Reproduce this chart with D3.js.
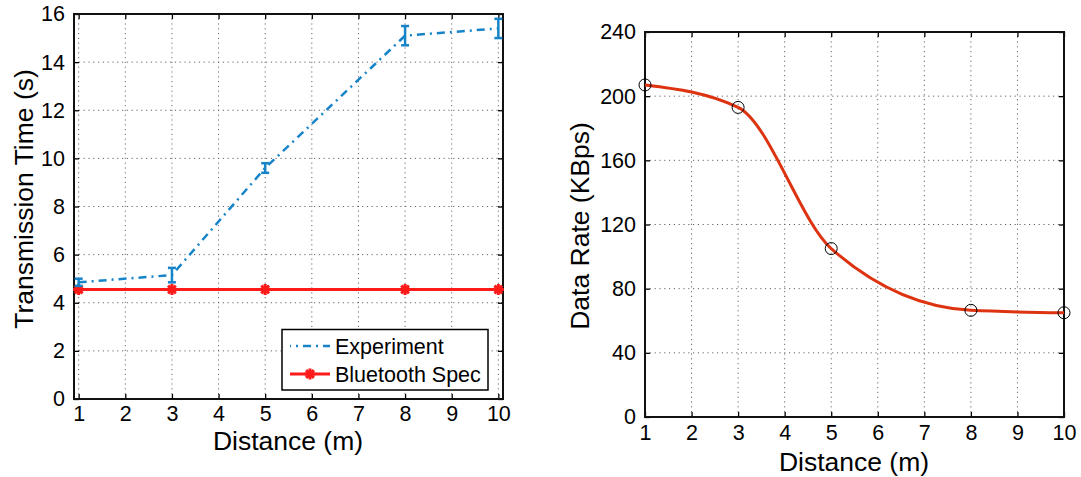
<!DOCTYPE html>
<html><head><meta charset="utf-8">
<script src="https://cdn.jsdelivr.net/npm/d3@7"></script>
<style>
body{margin:0;background:#fff}
text{font-family:"Liberation Sans",Arial,Helvetica,sans-serif;fill:#000}
</style></head>
<body><svg id="c" width="1081" height="477"></svg>
<script>
// ---- data ----
const distances = [1, 3, 5, 8, 10];
const experimentTime = [4.85, 5.15, 9.6, 15.1, 15.4];
const experimentErr = [0.15, 0.3, 0.2, 0.4, 0.4];
const bluetoothSpec = [4.55, 4.55, 4.55, 4.55, 4.55];
const dataRate = [207, 193, 105, 66.5, 65];
const xTicks = [1,2,3,4,5,6,7,8,9,10];
const yTicksLeft = [0,2,4,6,8,10,12,14,16];
const yTicksRight = [0,40,80,120,160,200,240];
const legendLabels = ["Experiment", "Bluetooth Spec"];

const svg = d3.select("#c");
const BLUE = "#1784c9", RED = "#ff1a1a", ORANGE = "#dd3311";

function frame(g, x, y, xt, yt, xTitle, yTitle, opts) {
  const [x0, x1] = x.range(), [y0, y1] = y.range();
  // grid
  g.append("g").selectAll("line").data(xt).join("line")
    .attr("x1", d => x(d)).attr("x2", d => x(d)).attr("y1", y0).attr("y2", y1)
    .attr("stroke", "#666").attr("stroke-width", 1).attr("stroke-dasharray", "1.2,3.6");
  g.append("g").selectAll("line").data(yt).join("line")
    .attr("y1", d => y(d)).attr("y2", d => y(d)).attr("x1", x0).attr("x2", x1)
    .attr("stroke", "#666").attr("stroke-width", 1).attr("stroke-dasharray", "1.2,3.6");
  // axes with inward ticks
  const bottom = g.append("g").attr("transform", `translate(0,${y0})`)
    .call(d3.axisBottom(x).tickValues(xt).tickSize(-5).tickPadding(opts.xpad).tickFormat(d3.format("d")));
  const top = g.append("g").attr("transform", `translate(0,${y1})`)
    .call(d3.axisTop(x).tickValues(xt).tickSize(-5).tickFormat(""));
  const left = g.append("g").attr("transform", `translate(${x0},0)`)
    .call(d3.axisLeft(y).tickValues(yt).tickSize(-5).tickPadding(9).tickFormat(d3.format("d")));
  const right = g.append("g").attr("transform", `translate(${x1},0)`)
    .call(d3.axisRight(y).tickValues(yt).tickSize(-5).tickFormat(""));
  [bottom, top, left, right].forEach(a => {
    a.select(".domain").remove();
    a.selectAll(".tick line").attr("stroke", "#000").attr("stroke-width", 1.3);
    a.selectAll("text").style("font-size", "21.5px").attr("fill", "#000");
  });
  bottom.selectAll("text").attr("dy", "0.71em");
  g.append("rect").attr("x", x0).attr("y", y1).attr("width", x1 - x0).attr("height", y0 - y1)
    .attr("fill", "none").attr("stroke", "#111").attr("stroke-width", 2);
  g.append("text").attr("x", opts.xtx).attr("y", opts.xty).attr("text-anchor", "middle")
    .style("font-size", "26.5px").text(xTitle);
  g.append("text").attr("transform", `translate(${opts.ytx},${opts.yty}) rotate(-90)`)
    .attr("text-anchor", "middle").style("font-size", "26.5px").text(yTitle);
}

// ---------- Left chart ----------
const xL = d3.scaleLinear().domain([0.9, 10.1]).range([74, 503]);
const yL = d3.scaleLinear().domain([0, 16]).range([399, 14]);
const gL = svg.append("g");
frame(gL, xL, yL, xTicks, yTicksLeft, "Distance (m)", "Transmission Time (s)",
  {xtx: 288, xty: 450, ytx: 33, yty: 199, xpad: 7});

const expData = distances.map((d, i) => ({x: d, y: experimentTime[i], e: experimentErr[i]}));
const btData = distances.map((d, i) => ({x: d, y: bluetoothSpec[i]}));

// bluetooth spec line
gL.append("path").datum(btData)
  .attr("d", d3.line().x(d => xL(d.x)).y(d => yL(d.y)))
  .attr("fill", "none").attr("stroke", RED).attr("stroke-width", 3);
function star(sel, cx, cy, r, color) {
  const g = sel.append("g").attr("transform", `translate(${cx},${cy})`);
  [0, 45, 90, 135].forEach(a => {
    const rad = a * Math.PI / 180;
    g.append("line").attr("x1", -r * Math.cos(rad)).attr("y1", -r * Math.sin(rad))
      .attr("x2", r * Math.cos(rad)).attr("y2", r * Math.sin(rad))
      .attr("stroke", color).attr("stroke-width", 3);
  });
}
btData.forEach(d => star(gL, xL(d.x), yL(d.y), 5.5, RED));

// experiment line
gL.append("path").datum(expData)
  .attr("d", d3.line().x(d => xL(d.x)).y(d => yL(d.y)))
  .attr("fill", "none").attr("stroke", BLUE).attr("stroke-width", 2.5)
  .attr("stroke-dasharray", "8,5,2,5");
// error bars
const eb = gL.append("g").attr("stroke", BLUE).attr("stroke-width", 2.5);
expData.forEach(d => {
  const cx = xL(d.x), t = yL(d.y + d.e), b = yL(d.y - d.e);
  eb.append("line").attr("x1", cx).attr("x2", cx).attr("y1", t).attr("y2", b);
  eb.append("line").attr("x1", cx - 4).attr("x2", cx + 4).attr("y1", t).attr("y2", t);
  eb.append("line").attr("x1", cx - 4).attr("x2", cx + 4).attr("y1", b).attr("y2", b);
});

// legend
const lg = gL.append("g");
lg.append("rect").attr("x", 282).attr("y", 329.5).attr("width", 206).attr("height", 60.5)
  .attr("fill", "#fff").attr("stroke", "#000").attr("stroke-width", 1.5);
lg.append("line").attr("x1", 290).attr("x2", 330).attr("y1", 346).attr("y2", 346)
  .attr("stroke", BLUE).attr("stroke-width", 2.5).attr("stroke-dasharray", "8,5,2,5").attr("stroke-dashoffset", 7);
lg.append("line").attr("x1", 290).attr("x2", 330).attr("y1", 374).attr("y2", 374)
  .attr("stroke", RED).attr("stroke-width", 3);
star(lg, 310, 374, 5.5, RED);
lg.selectAll("text.l").data(legendLabels).join("text").attr("class", "l")
  .attr("x", 335).attr("y", (d, i) => 354 + i * 28).style("font-size", "21.5px").text(d => d);

// ---------- Right chart ----------
const xR = d3.scaleLinear().domain([1, 10]).range([645, 1064]);
const yR = d3.scaleLinear().domain([0, 240]).range([417, 32]);
const gR = svg.append("g");
frame(gR, xR, yR, xTicks, yTicksRight, "Distance (m)", "Data Rate (KBps)",
  {xtx: 854, xty: 471, ytx: 589, yty: 226, xpad: 8});

const rateData = distances.map((d, i) => ({x: d, y: dataRate[i]}));
gR.append("path").datum(rateData)
  .attr("d", d3.line().x(d => xR(d.x)).y(d => yR(d.y)).curve(d3.curveMonotoneX))
  .attr("fill", "none").attr("stroke", ORANGE).attr("stroke-width", 3);
gR.append("g").selectAll("circle").data(rateData).join("circle")
  .attr("cx", d => xR(d.x)).attr("cy", d => yR(d.y)).attr("r", 6)
  .attr("fill", "none").attr("stroke", "#000").attr("stroke-width", 1);
</script></body></html>
